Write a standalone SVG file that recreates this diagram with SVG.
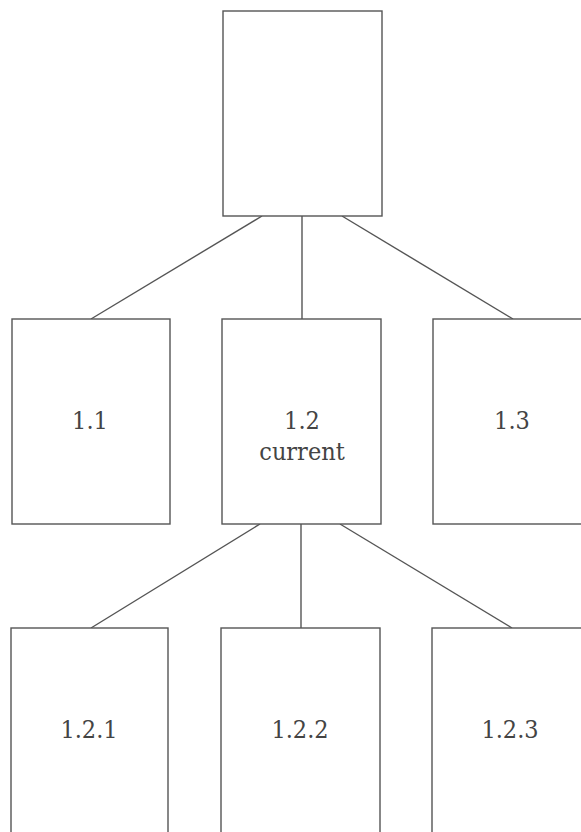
<svg xmlns="http://www.w3.org/2000/svg" width="581" height="832" viewBox="0 0 581 832">
<style>
.box{fill:#fff;stroke:#555;stroke-width:1.4}
.con line{stroke:#555;stroke-width:1.4}
.lbl{font-family:'DejaVu Serif Condensed','DejaVu Serif',serif;font-stretch:condensed;font-size:25px;fill:#444;text-anchor:middle}
</style>
<rect width="581" height="832" fill="#fff"/>
<g class="con" id="connectors">
<line x1="262" y1="216" x2="91" y2="319"/>
<line x1="302" y1="216" x2="302" y2="319"/>
<line x1="342" y1="216" x2="513" y2="319"/>
<line x1="260" y1="524" x2="91" y2="628"/>
<line x1="301" y1="524" x2="301" y2="628"/>
<line x1="340" y1="524" x2="512" y2="628"/>
</g>
<g id="root"><rect class="box" x="223" y="11" width="159" height="205"/></g>
<g id="n1_1"><rect class="box" x="12" y="319" width="158" height="205"/><text class="lbl" x="90" y="429">1.1</text></g>
<g id="n1_2"><rect class="box" x="222" y="319" width="159" height="205"/><text class="lbl" x="302" y="429">1.2</text><text class="lbl" x="302" y="460">current</text></g>
<g id="n1_3"><rect class="box" x="433" y="319" width="159" height="205"/><text class="lbl" x="512" y="429">1.3</text></g>
<g id="n1_2_1"><rect class="box" x="11" y="628" width="157" height="220"/><text class="lbl" x="89" y="738">1.2.1</text></g>
<g id="n1_2_2"><rect class="box" x="221" y="628" width="159" height="220"/><text class="lbl" x="300" y="738">1.2.2</text></g>
<g id="n1_2_3"><rect class="box" x="432" y="628" width="159" height="220"/><text class="lbl" x="510" y="738">1.2.3</text></g>
</svg>
